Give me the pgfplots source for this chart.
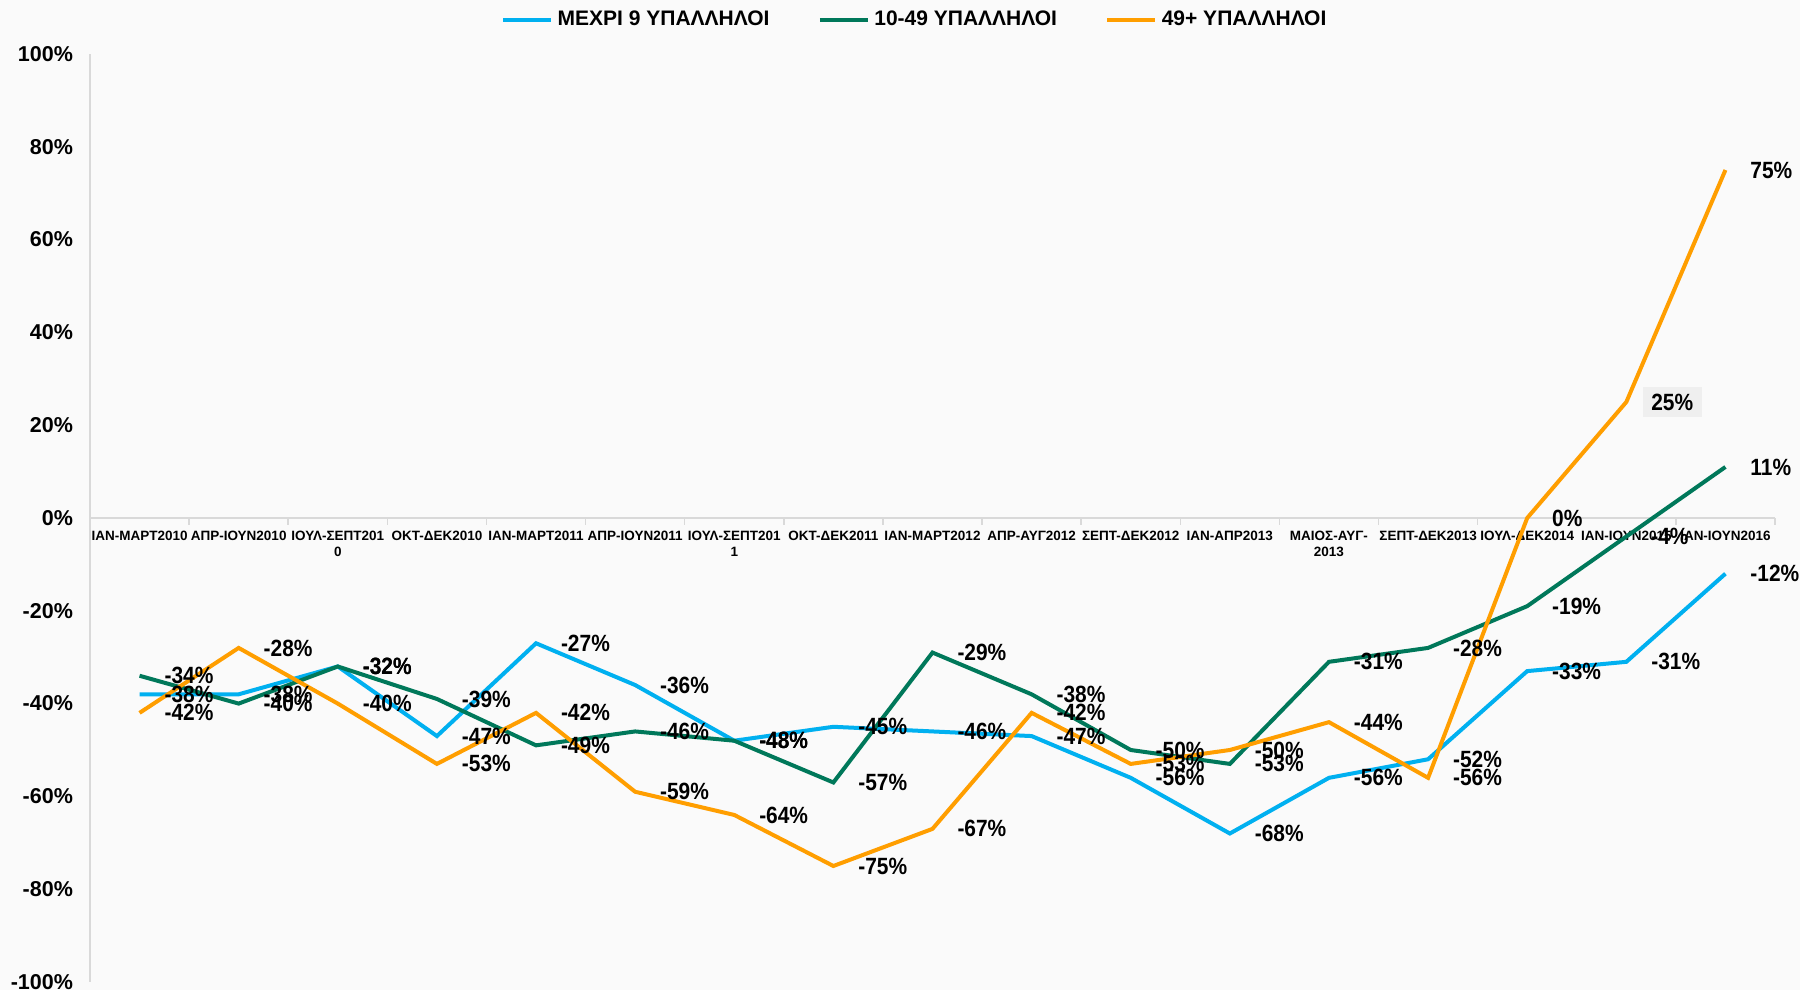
\documentclass[border=0pt]{standalone}
\usepackage{pgfplots}
\pgfplotsset{compat=1.18}
\usepackage{pgfplotstable}
\usepackage{fontspec}
\setmainfont{Liberation Sans}
\newfontfamily\lblfont{Liberation Sans Bold}[FakeStretch=0.89]

\definecolor{cblue}{HTML}{00B0F0}
\definecolor{cgreen}{HTML}{00785A}
\definecolor{corange}{HTML}{FF9E00}
\definecolor{axgray}{HTML}{D9D9D9}
\definecolor{bg}{HTML}{FAFAFA}
\definecolor{lbox}{HTML}{EFEFEF}

\pgfplotstableread{
x a b c
0 -38 -34 -42
1 -38 -40 -28
2 -32 -32 -40
3 -47 -39 -53
4 -27 -49 -42
5 -36 -46 -59
6 -48 -48 -64
7 -45 -57 -75
8 -46 -29 -67
9 -47 -38 -42
10 -56 -50 -53
11 -68 -53 -50
12 -56 -31 -44
13 -52 -28 -56
14 -33 -19 0
15 -31 -4 25
16 -12 11 75
}\data

\begin{document}
\begin{tikzpicture}
\fill[bg] (0,0) rectangle (900pt,495pt);
\useasboundingbox (0,0) rectangle (900pt,495pt);
\begin{axis}[
  at={(45pt,4pt)}, anchor=south west,
  scale only axis, width=842.5pt, height=464pt,
  xmin=-0.5, xmax=16.5, ymin=-100, ymax=100,
  clip=false,
  axis x line=middle, axis y line=left,
  hide obscured x ticks=false, hide obscured y ticks=false,
  axis line style={draw=axgray, line width=1pt, -},
  x axis line style={-}, y axis line style={-},
  major tick length=0pt,
  xtick={0,...,16},
  xticklabels={ΙΑΝ-ΜΑΡΤ2010, ΑΠΡ-ΙΟΥΝ2010, {ΙΟΥΛ-ΣΕΠΤ201\\0}, ΟΚΤ-ΔΕΚ2010, ΙΑΝ-ΜΑΡΤ2011, ΑΠΡ-ΙΟΥΝ2011, {ΙΟΥΛ-ΣΕΠΤ201\\1}, ΟΚΤ-ΔΕΚ2011, ΙΑΝ-ΜΑΡΤ2012, ΑΠΡ-ΑΥΓ2012, ΣΕΠΤ-ΔΕΚ2012, ΙΑΝ-ΑΠΡ2013, {ΜΑΙΟΣ-ΑΥΓ-\\2013}, ΣΕΠΤ-ΔΕΚ2013, ΙΟΥΛ-ΔΕΚ2014, ΙΑΝ-ΙΟΥΝ2015, ΙΑΝ-ΙΟΥΝ2016},
  xticklabel style={font=\bfseries\fontsize{6.75}{8}\selectfont, align=center, yshift=-3pt, text=black},
  extra x ticks={-0.5,0.5,...,16.5},
  extra x tick labels={},
  extra x tick style={major tick length=3.5pt, tick align=outside, tick style={draw=axgray, line width=0.75pt}},
  ytick={-100,-80,...,100},
  yticklabel={\pgfmathprintnumber{\tick}\%},
  yticklabel style={font=\bfseries\fontsize{10.75}{12}\selectfont, xshift=-5pt, text=black},
  /pgf/number format/.cd, fixed, precision=0, assume math mode=true, /pgfplots/.cd,
  legend style={at={(0.49,1.0366)}, anchor=center, legend columns=3, draw=none, fill=none,
    font=\bfseries\fontsize{10.5}{12}\selectfont,
    /tikz/every even column/.append style={column sep=22pt}},
  legend image code/.code={\draw[line width=2.4pt] (0pt,0pt) -- (24pt,0pt);},
  every axis plot/.append style={line width=2pt},
]
\addplot[cblue, mark=none] table[x=x, y=a] {\data};
\addlegendentry{ΜΕΧΡΙ 9 ΥΠΑΛΛΗΛΟΙ}
\addplot[cgreen, mark=none] table[x=x, y=b] {\data};
\addlegendentry{10-49 ΥΠΑΛΛΗΛΟΙ}
\addplot[corange, mark=none] table[x=x, y=c] {\data};
\addlegendentry{49+ ΥΠΑΛΛΗΛΟΙ}

\pgfplotsset{lbl/.style={draw=none, mark=none, forget plot, point meta=y,
  nodes near coords={\pgfmathprintnumber{\pgfplotspointmeta}\%},
  every node near coord/.append style={anchor=west, xshift=8.5pt, yshift=0pt, inner sep=3pt, text=black,
    font=\lblfont\fontsize{11.75}{13}\selectfont}}}
\addplot[lbl] table[x=x, y=a] {\data};
\addplot[lbl] table[x=x, y=b] {\data};
\addplot[lbl] table[x=x, y=c] {\data};
\addplot[lbl, every node near coord/.append style={fill=lbox, inner xsep=4.25pt, inner ysep=3.5pt, xshift=-1.25pt}] coordinates {(15,25)};
\end{axis}
\end{tikzpicture}
\end{document}
